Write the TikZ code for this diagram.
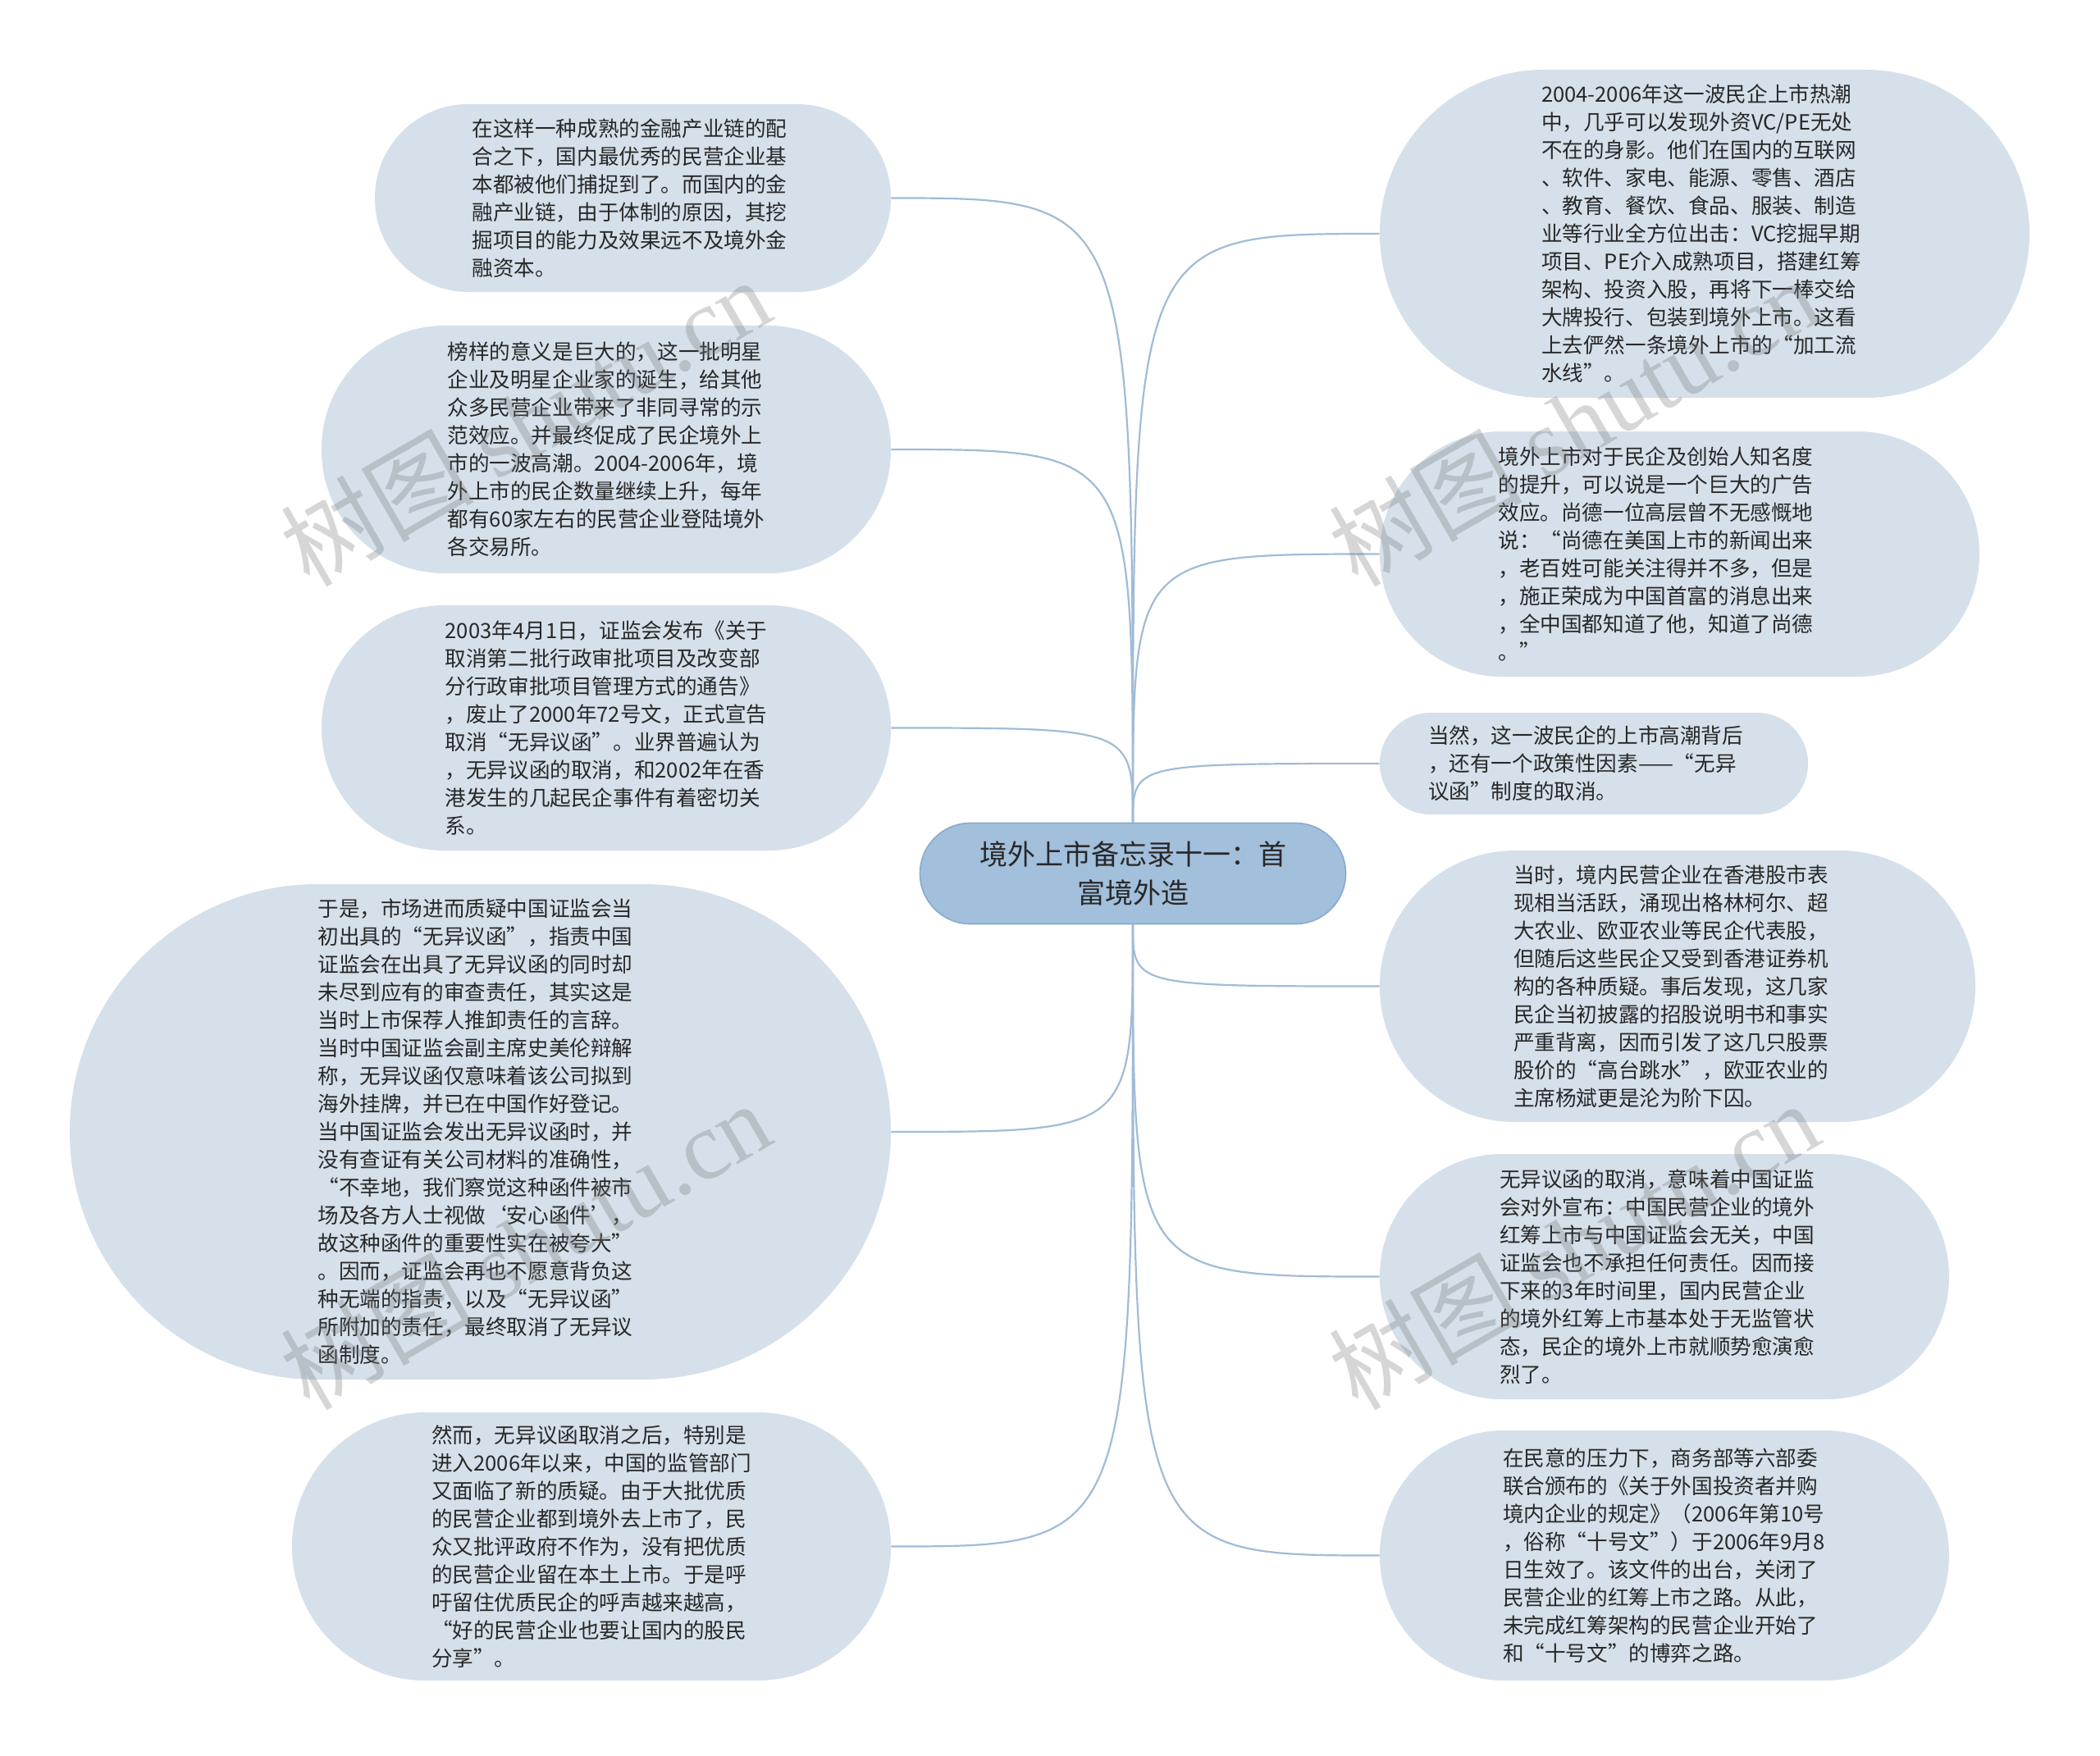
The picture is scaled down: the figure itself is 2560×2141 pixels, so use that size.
\documentclass[tikz,border=0pt]{standalone}
\usepackage{fontspec}
\setmainfont{Noto Sans CJK SC}
\newfontfamily\wmfont{Liberation Serif}
\definecolor{leaffill}{RGB}{213,224,234}
\definecolor{rootfill}{RGB}{162,191,219}
\definecolor{rootline}{RGB}{138,170,204}
\definecolor{edgecol}{RGB}{160,188,214}
\definecolor{txt}{RGB}{40,40,40}
\definecolor{wm}{RGB}{120,120,120}
\begin{document}
\begin{tikzpicture}[x=0.5pt,y=-0.5pt,
  leaf/.style={fill=leaffill, text=txt, align=left, inner sep=0pt,
    font=\fontsize{12.8pt}{17pt}\selectfont},
  root/.style={fill=rootfill, draw=rootline, line width=0.8pt, text=txt, align=center,
    inner sep=0pt, font=\fontsize{17pt}{23.5pt}\selectfont},
  edge/.style={draw=edgecol, line width=1.1pt},
  wmark/.style={text=wm, opacity=0.3, rotate=30, inner sep=0pt,
    font=\fontsize{59pt}{59pt}\selectfont}]
\useasboundingbox (0,0) rectangle (2560,2141);
\fill[white] (0,0) rectangle (2560,2141);

\node[root, minimum width=259.5pt, minimum height=61.5pt, rounded corners=30.75pt] (c) at (1381,1065)
  {境外上市备忘录十一：首\\富境外造};

% left side
\node[leaf, minimum width=314.5pt, minimum height=114.5pt, rounded corners=57pt, text width=196pt] (l1) at (771.5,241.5)
  {在这样一种成熟的金融产业链的配\\合之下，国内最优秀的民营企业基\\本都被他们捕捉到了。而国内的金\\融产业链，由于体制的原因，其挖\\掘项目的能力及效果远不及境外金\\融资本。};

\node[leaf, minimum width=347pt, minimum height=151pt, rounded corners=75pt] (l2) at (739,548)
  {榜样的意义是巨大的，这一批明星\\企业及明星企业家的诞生，给其他\\众多民营企业带来了非同寻常的示\\范效应。并最终促成了民企境外上\\市的一波高潮。2004-2006年，境\\外上市的民企数量继续上升，每年\\都有60家左右的民营企业登陆境外\\各交易所。};

\node[leaf, minimum width=347pt, minimum height=149.5pt, rounded corners=74.5pt] (l3) at (739,887.5)
  {2003年4月1日，证监会发布《关于\\取消第二批行政审批项目及改变部\\分行政审批项目管理方式的通告》\\，废止了2000年72号文，正式宣告\\取消“无异议函”。业界普遍认为\\，无异议函的取消，和2002年在香\\港发生的几起民企事件有着密切关\\系。};

\node[leaf, minimum width=500.5pt, minimum height=302pt, rounded corners=151pt, text width=198pt] (l4) at (585.5,1380)
  {于是，市场进而质疑中国证监会当\\初出具的“无异议函”，指责中国\\证监会在出具了无异议函的同时却\\未尽到应有的审查责任，其实这是\\当时上市保荐人推卸责任的言辞。\\当时中国证监会副主席史美伦辩解\\称，无异议函仅意味着该公司拟到\\海外挂牌，并已在中国作好登记。\\当中国证监会发出无异议函时，并\\没有查证有关公司材料的准确性，\\“不幸地，我们察觉这种函件被市\\场及各方人士视做‘安心函件’，\\故这种函件的重要性实在被夸大”\\。因而，证监会再也不愿意背负这\\种无端的指责，以及“无异议函”\\所附加的责任，最终取消了无异议\\函制度。};

\node[leaf, minimum width=365pt, minimum height=163.5pt, rounded corners=81.5pt] (l5) at (721,1885.5)
  {然而，无异议函取消之后，特别是\\进入2006年以来，中国的监管部门\\又面临了新的质疑。由于大批优质\\的民营企业都到境外去上市了，民\\众又批评政府不作为，没有把优质\\的民营企业留在本土上市。于是呼\\吁留住优质民企的呼声越来越高，\\“好的民营企业也要让国内的股民\\分享”。};

% right side
\node[leaf, minimum width=396pt, minimum height=200pt, rounded corners=100pt, text width=199pt] (r1) at (2078,285)
  {2004-2006年这一波民企上市热潮\\中，几乎可以发现外资VC/PE无处\\不在的身影。他们在国内的互联网\\、软件、家电、能源、零售、酒店\\、教育、餐饮、食品、服装、制造\\业等行业全方位出击：VC挖掘早期\\项目、PE介入成熟项目，搭建红筹\\架构、投资入股，再将下一棒交给\\大牌投行、包装到境外上市。这看\\上去俨然一条境外上市的“加工流\\水线”。};

\node[leaf, minimum width=365.5pt, minimum height=149.5pt, rounded corners=74.5pt, text width=221pt] (r2) at (2047.5,675.5)
  {境外上市对于民企及创始人知名度\\的提升，可以说是一个巨大的广告\\效应。尚德一位高层曾不无感慨地\\说：“尚德在美国上市的新闻出来\\，老百姓可能关注得并不多，但是\\，施正荣成为中国首富的消息出来\\，全中国都知道了他，知道了尚德\\。”};

\node[leaf, minimum width=261pt, minimum height=62pt, rounded corners=31pt, text width=202pt] (r3) at (1943,931)
  {当然，这一波民企的上市高潮背后\\，还有一个政策性因素——“无异\\议函”制度的取消。};

\node[leaf, minimum width=363pt, minimum height=165.5pt, rounded corners=82.5pt, text width=200pt] (r4) at (2045,1202.5)
  {当时，境内民营企业在香港股市表\\现相当活跃，涌现出格林柯尔、超\\大农业、欧亚农业等民企代表股，\\但随后这些民企又受到香港证券机\\构的各种质疑。事后发现，这几家\\民企当初披露的招股说明书和事实\\严重背离，因而引发了这几只股票\\股价的“高台跳水”，欧亚农业的\\主席杨斌更是沦为阶下囚。};

\node[leaf, minimum width=347pt, minimum height=149.5pt, rounded corners=74.5pt, text width=201pt] (r5) at (2029,1556.5)
  {无异议函的取消，意味着中国证监\\会对外宣布：中国民营企业的境外\\红筹上市与中国证监会无关，中国\\证监会也不承担任何责任。因而接\\下来的3年时间里，国内民营企业\\的境外红筹上市基本处于无监管状\\态，民企的境外上市就顺势愈演愈\\烈了。};

\node[leaf, minimum width=347pt, minimum height=152.5pt, rounded corners=76pt, text width=197pt] (r6) at (2029,1896.5)
  {在民意的压力下，商务部等六部委\\联合颁布的《关于外国投资者并购\\境内企业的规定》（2006年第10号\\，俗称“十号文”）于2006年9月8\\日生效了。该文件的出台，关闭了\\民营企业的红筹上市之路。从此，\\未完成红筹架构的民营企业开始了\\和“十号文”的博弈之路。};

% connectors
\draw[edge] (c.north) .. controls (c.north |- l1.east) .. (l1.east);
\draw[edge] (c.north) .. controls (c.north |- l2.east) .. (l2.east);
\draw[edge] (c.north) .. controls (c.north |- l3.east) .. (l3.east);
\draw[edge] (c.south) .. controls (c.south |- l4.east) .. (l4.east);
\draw[edge] (c.south) .. controls (c.south |- l5.east) .. (l5.east);
\draw[edge] (c.north) .. controls (c.north |- r1.west) .. (r1.west);
\draw[edge] (c.north) .. controls (c.north |- r2.west) .. (r2.west);
\draw[edge] (c.north) .. controls (c.north |- r3.west) .. (r3.west);
\draw[edge] (c.south) .. controls (c.south |- r4.west) .. (r4.west);
\draw[edge] (c.south) .. controls (c.south |- r5.west) .. (r5.west);
\draw[edge] (c.south) .. controls (c.south |- r6.west) .. (r6.west);

% watermarks
\node[wmark] (w1) at (640,514) {树图 {\wmfont shutu.cn}};
\node[wmark] (w2) at (1918,514) {树图 {\wmfont shutu.cn}};
\node[wmark] (w3) at (640,1518) {树图 {\wmfont shutu.cn}};
\node[wmark] (w4) at (1918,1518) {树图 {\wmfont shutu.cn}};
\end{tikzpicture}
\end{document}
